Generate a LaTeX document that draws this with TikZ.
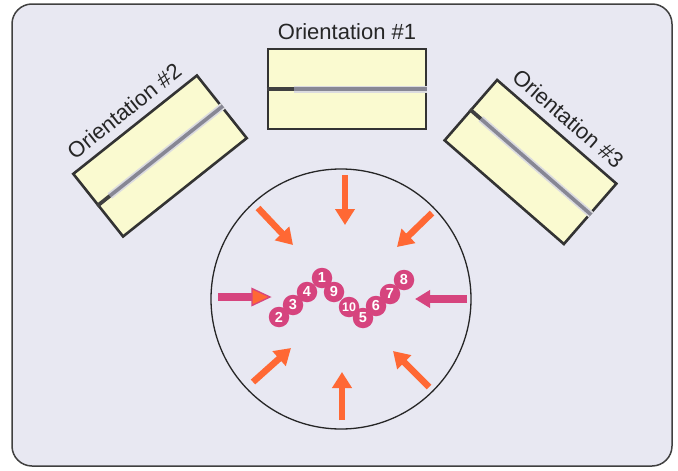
\documentclass[tikz,border=0pt]{standalone}
\usepackage{fontspec}
\setmainfont{Liberation Sans}
\usetikzlibrary{arrows.meta,calc}
\definecolor{bg}{RGB}{232,232,242}
\definecolor{boxfill}{RGB}{250,250,208}
\definecolor{beadpink}{RGB}{214,68,126}
\definecolor{arrorange}{RGB}{255,104,52}
\definecolor{gelgray}{RGB}{135,135,148}
\begin{document}
\begin{tikzpicture}[x=1pt,y=-1pt,
  orbox/.style={draw=black!80, line width=2.6pt, fill=boxfill, minimum width=158pt, minimum height=80pt, inner sep=0pt},
  orlab/.style={font=\fontsize{22}{26}\selectfont, text=black!85, inner sep=8pt, anchor=south},
  gelhalo/.style={line width=7pt, draw=gelgray!30},
  gel/.style={line width=3.6pt, draw=gelgray},
  geldark/.style={line width=3.8pt, draw=black!75},
  bead/.style={circle, fill=beadpink, minimum size=20.5pt, inner sep=0pt, text=white, font=\bfseries\fontsize{14.5}{15}\selectfont},
  beadsmall/.style={bead, font=\bfseries\fontsize{12.5}{13}\selectfont},
  push/.style={draw=arrorange, line width=6.5pt, -{Triangle[width=19pt,length=16pt]}},
  pull/.style={draw=beadpink, line width=8pt, -{Triangle[width=17pt,length=15pt]}}
]
\useasboundingbox (0,0) rectangle (678,471);
\fill[white] (0,0) rectangle (678,471);
% frame
\draw[draw=black!75, line width=1.5pt, fill=bg, rounded corners=20pt] (12,4) rectangle (672,466);
% cell
\node[circle, draw=black!85, line width=1.3pt, minimum size=260pt, inner sep=0pt] (cell) at (341,299) {};
% boxes
\node[orbox] (o1) at (347,89) {};
\node[orbox, rotate=38.5] (o2) at (160,156) {};
\node[orbox, rotate=-41] (o3) at (530.5,162) {};
% gel lines
\draw[gelhalo] ($(o1.west)!0.17!(o1.east)$) -- (o1.east);
\draw[gel] ($(o1.west)!0.17!(o1.east)$) -- (o1.east);
\draw[geldark] (o1.west) -- ($(o1.west)!0.17!(o1.east)$);
\draw[gelhalo] ($(o2.west)!0.1!(o2.east)$) -- (o2.east);
\draw[gel] ($(o2.west)!0.1!(o2.east)$) -- (o2.east);
\draw[geldark] (o2.west) -- ($(o2.west)!0.1!(o2.east)$);
\draw[gelhalo] ($(o3.west)!0.09!(o3.east)$) -- (o3.east);
\draw[gel] ($(o3.west)!0.09!(o3.east)$) -- (o3.east);
\draw[geldark] (o3.west) -- ($(o3.west)!0.09!(o3.east)$);
% labels
\node[orlab] (l1) at (o1.north) {Orientation \#1};
\node[orlab, rotate=38.5] (l2) at (o2.north) {Orientation \#2};
\node[orlab, rotate=-41] (l3) at (o3.north) {Orientation \#3};
% orange arrows
\coordinate (tT) at (345,175); \coordinate (hT) at (345,225);
\coordinate (tUL) at (258,208); \coordinate (hUL) at (293,245);
\coordinate (tUR) at (432,213); \coordinate (hUR) at (397,247);
\coordinate (tLL) at (253,382); \coordinate (hLL) at (291,348);
\coordinate (tB) at (342,420); \coordinate (hB) at (342,372);
\coordinate (tLR) at (429,387); \coordinate (hLR) at (393,351);
\draw[push] (tT) -- (hT);
\draw[push] (tUL) -- (hUL);
\draw[push] (tUR) -- (hUR);
\draw[push] (tLL) -- (hLL);
\draw[push] (tB) -- (hB);
\draw[push] (tLR) -- (hLR);
% pink arrows
\coordinate (tPL) at (218,297); \coordinate (hPL) at (253,297);
\draw[draw=beadpink, line width=8pt] (tPL) -- (hPL);
\draw[draw=beadpink, fill=arrorange, line width=1.3pt, line join=miter] (252,288.5) -- (270,297) -- (252,305.5) -- cycle;
\coordinate (tPR) at (467,299); \coordinate (hPR) at (415,299);
\draw[pull] (tPR) -- (hPR);
% beads
\node[bead] (b2) at (279,317) {2};
\node[bead] (b3) at (293,305) {3};
\node[bead] (b4) at (307,292) {4};
\node[bead] (b1) at (322,278) {1};
\node[bead] (b9) at (334,292) {9};
\node[beadsmall] (b10) at (349,307) {10};
\node[bead] (b5) at (363,318) {5};
\node[bead] (b6) at (376,306) {6};
\node[bead] (b7) at (390,294) {7};
\node[bead] (b8) at (404,280) {8};
\end{tikzpicture}
\end{document}
